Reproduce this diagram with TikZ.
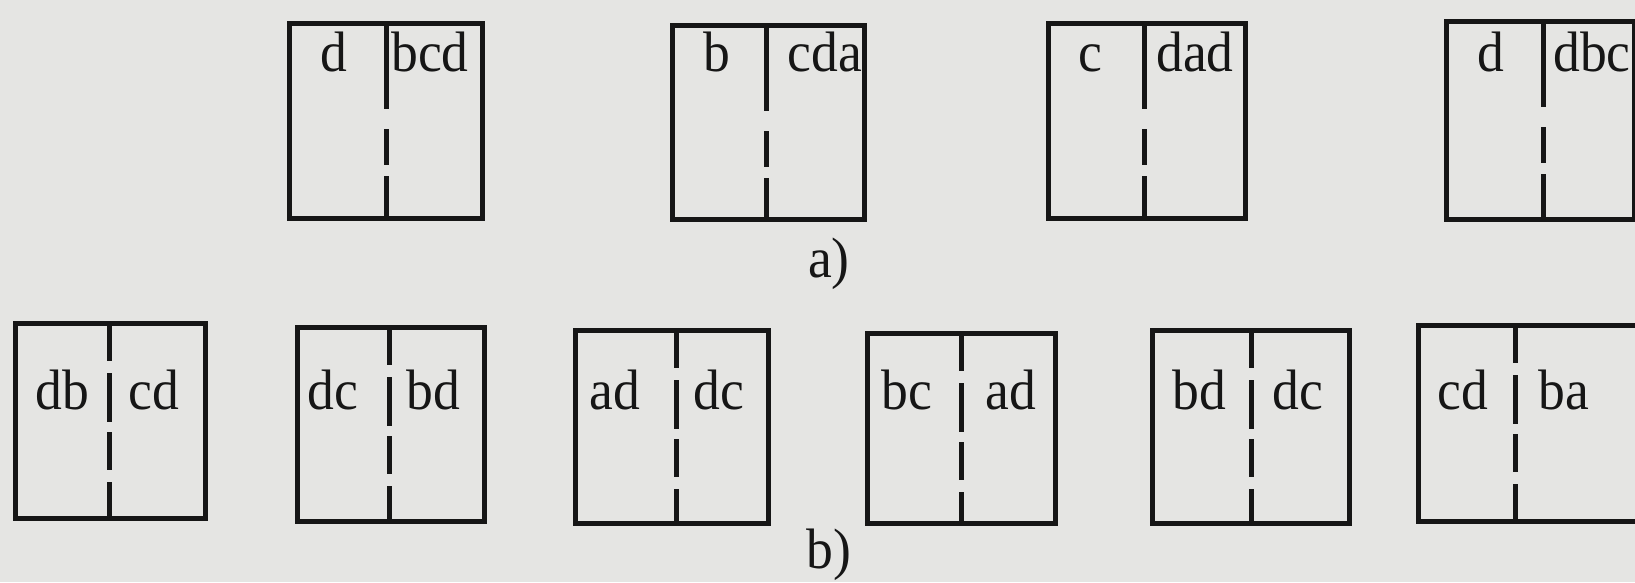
\documentclass[tikz,border=0pt]{standalone}
\usepackage{fontspec}
\setmainfont{Liberation Serif}[FakeStretch=0.94]
\definecolor{paper}{RGB}{229,229,227}
\definecolor{ink}{RGB}{22,22,22}
\begin{document}
\begin{tikzpicture}[x=1pt,y=-1pt,
  cell/.style={draw=ink,line width=5pt,line join=miter},
  topdiv/.style={draw=ink,line width=5pt,dash pattern=on 88pt off 20pt on 36pt off 11pt on 120pt off 0pt},
  botdiv/.style={draw=ink,line width=5pt,dash pattern=on 40pt off 12pt on 49pt off 10pt on 38pt off 12pt on 120pt off 0pt},
  lbl/.style={anchor=base,inner sep=0pt,text=ink,font=\fontsize{57}{60}\selectfont},
  figcap/.style={anchor=base,inner sep=0pt,text=ink,font=\fontsize{57}{60}\selectfont}]
\useasboundingbox (0,0) rectangle (1635,582);
\clip (0,0) rectangle (1635,582);
\fill[paper] (0,0) rectangle (1635,582);
% name / x1 / x2 / y1 / y2 / divider x / divider style / left text / left x / right text / right x / baseline
\foreach \n/\xa/\xb/\ya/\yb/\xd/\ds/\lt/\lx/\rt/\rx/\bl in {
  ta/287/480/21/216/386/topdiv/d/334/bcd/430/71,
  tb/670/862/23/217/766/topdiv/b/717/cda/825/71,
  tc/1046/1243/21/216/1144/topdiv/c/1090/dad/1195/71,
  td/1444/1632/19/217/1543/topdiv/d/1491/dbc/1592/71,
  ba/13/203/321/516/109/botdiv/db/62/cd/154/409,
  bb/295/482/325/519/389/botdiv/dc/333/bd/433/409,
  bc/573/766/328/521/676/botdiv/ad/615/dc/719/409,
  bd/865/1053/331/521/961/botdiv/bc/907/ad/1011/409,
  be/1150/1347/328/521/1251/botdiv/bd/1199/dc/1298/409,
  bf/1416/1650/323/519/1515/botdiv/cd/1463/ba/1564/409}{
  \node[cell,anchor=north west,minimum width={\xb-\xa},minimum height={\yb-\ya},inner sep=0pt] (\n) at (\xa,\ya) {};
  \coordinate (\n-dt) at (\xd,\ya);
  \coordinate (\n-db) at (\xd,\yb);
  \draw[\ds] (\n-dt) -- (\n-db);
  \node[lbl] (\n-l) at (\lx,\bl) {\lt};
  \node[lbl] (\n-r) at (\rx,\bl) {\rt};
}
\node[figcap] (capa) at (829,277) {a)};
\node[figcap] (capb) at (829,568) {b)};
\end{tikzpicture}
\end{document}
